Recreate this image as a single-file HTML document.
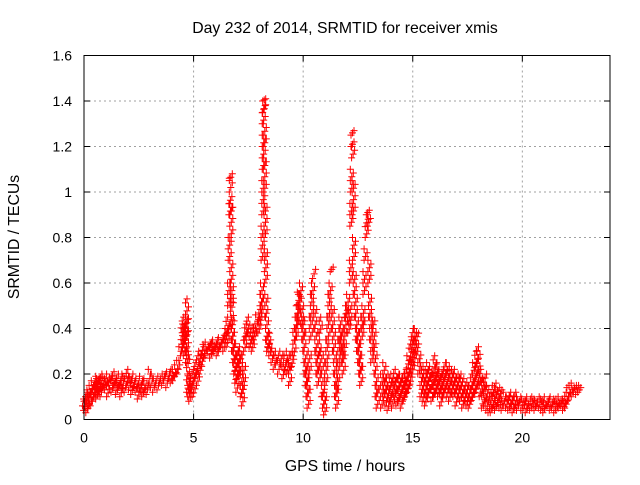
<!DOCTYPE html>
<html><head><meta charset="utf-8"><style>
body{margin:0;background:#fff;}
svg text{font-family:"Liberation Sans",sans-serif;font-size:14px;fill:#000;}
svg text.ttl{font-size:15.8px;}
</style></head><body>
<svg id="chart" width="640" height="480" xmlns="http://www.w3.org/2000/svg">
<rect width="640" height="480" fill="#fff"/>
<g id="grid"></g>
<g id="pts"></g>
<rect x="84" y="55.5" width="526" height="364" fill="none" stroke="#000"/>
<g id="ticks"></g>
<text class="ttl" x="345" y="33" text-anchor="middle">Day 232 of 2014, SRMTID for receiver xmis</text>
<text class="ttl" x="345" y="471" text-anchor="middle">GPS time / hours</text>
<text class="ttl" x="0" y="0" text-anchor="middle" transform="translate(19,237) rotate(-90)">SRMTID / TECUs</text>
</svg>
<script>
const xTicks=[0,5,10,15,20];
const yTicks=[0,0.2,0.4,0.6,0.8,1,1.2,1.4,1.6];
const yTickLabels=["0","0.2","0.4","0.6","0.8","1","1.2","1.4","1.6"];
const tecT=[0,0.05,0.1,0.15,0.2,0.25,0.3,0.35,0.4,0.45,0.5,0.55,0.6,0.65,0.7,0.75,0.8,0.9,1,1.1,1.2,1.3,1.4,1.5,1.6,1.7,1.8,1.9,2,2.1,2.2,2.3,2.4,2.5,2.6,2.7,2.8,2.9,3,3.1,3.2,3.3,3.4,3.5,3.6,3.7,3.8,3.9,4,4.1,4.2,4.3,4.4,4.5,4.55,4.6,4.65,4.7,4.75,4.8,4.85,4.9,5,5.1,5.2,5.3,5.4,5.5,5.6,5.7,5.8,5.9,6,6.1,6.2,6.3,6.4,6.5,6.55,6.6,6.62,6.65,6.68,6.7,6.7,6.72,6.72,6.75,6.75,6.78,6.8,6.85,6.9,6.95,7,7.05,7.1,7.15,7.2,7.25,7.3,7.35,7.4,7.5,7.6,7.7,7.8,7.9,8,8.05,8.1,8.12,8.15,8.18,8.2,8.2,8.22,8.22,8.25,8.25,8.28,8.3,8.32,8.35,8.4,8.45,8.5,8.6,8.7,8.8,8.9,9,9.1,9.2,9.3,9.4,9.5,9.6,9.7,9.75,9.8,9.85,9.9,9.95,10,10.05,10.1,10.15,10.2,10.25,10.3,10.35,10.4,10.45,10.5,10.55,10.6,10.65,10.7,10.75,10.8,10.85,10.9,10.95,11,11.05,11.1,11.15,11.2,11.25,11.3,11.35,11.4,11.45,11.5,11.55,11.6,11.65,11.7,11.75,11.8,11.85,11.9,11.95,12,12.05,12.1,12.15,12.18,12.2,12.22,12.25,12.25,12.28,12.3,12.32,12.35,12.4,12.45,12.5,12.55,12.6,12.65,12.7,12.75,12.8,12.85,12.9,12.95,13,13.02,13.05,13.1,13.15,13.2,13.25,13.3,13.35,13.4,13.45,13.5];
const tecLow=[0.06,0.04,0.08,0.03,0.07,0.05,0.1,0.06,0.12,0.08,0.1,0.13,0.09,0.14,0.11,0.12,0.1,0.14,0.13,0.1,0.15,0.12,0.14,0.11,0.13,0.1,0.14,0.12,0.15,0.13,0.11,0.14,0.12,0.09,0.13,0.1,0.12,0.11,0.16,0.14,0.12,0.15,0.13,0.16,0.15,0.17,0.14,0.18,0.16,0.17,0.19,0.2,0.26,0.3,0.33,0.28,0.35,0.25,0.12,0.1,0.08,0.12,0.1,0.18,0.15,0.2,0.24,0.27,0.28,0.3,0.27,0.29,0.31,0.28,0.3,0.32,0.3,0.35,0.32,0.38,0.5,0.7,0.9,1.05,1.0,0.8,0.6,0.5,0.42,0.35,0.3,0.25,0.2,0.16,0.12,0.18,0.25,0.2,0.1,0.06,0.15,0.3,0.35,0.38,0.32,0.3,0.35,0.4,0.38,0.42,0.45,0.5,0.7,0.9,1.1,1.3,1.4,1.35,1.2,1.0,0.8,0.6,0.45,0.35,0.3,0.32,0.28,0.25,0.22,0.24,0.2,0.25,0.18,0.22,0.2,0.15,0.23,0.28,0.35,0.4,0.45,0.5,0.55,0.42,0.35,0.3,0.2,0.15,0.1,0.05,0.2,0.35,0.45,0.55,0.62,0.4,0.3,0.2,0.15,0.28,0.38,0.2,0.1,0.05,0.02,0.15,0.25,0.35,0.45,0.55,0.65,0.4,0.3,0.2,0.1,0.05,0.15,0.25,0.35,0.3,0.25,0.2,0.3,0.4,0.45,0.5,0.38,0.42,0.6,0.85,1.0,1.2,1.25,1.15,0.9,0.7,0.55,0.45,0.35,0.3,0.25,0.2,0.15,0.35,0.4,0.55,0.7,0.8,0.9,0.85,0.6,0.45,0.35,0.25,0.4,0.3,0.2,0.1,0.05];
const tecHigh=[0.1,0.09,0.12,0.1,0.13,0.11,0.15,0.12,0.17,0.15,0.18,0.16,0.19,0.17,0.18,0.2,0.16,0.19,0.18,0.2,0.19,0.21,0.18,0.2,0.17,0.19,0.2,0.18,0.22,0.19,0.18,0.2,0.17,0.16,0.19,0.17,0.18,0.15,0.22,0.2,0.18,0.19,0.17,0.2,0.19,0.21,0.2,0.22,0.21,0.22,0.24,0.26,0.32,0.42,0.45,0.4,0.44,0.53,0.3,0.2,0.15,0.18,0.22,0.25,0.28,0.3,0.32,0.33,0.34,0.33,0.35,0.34,0.33,0.35,0.36,0.35,0.37,0.4,0.45,0.42,0.6,0.8,0.98,1.08,1.06,0.95,0.7,0.6,0.55,0.45,0.4,0.35,0.3,0.28,0.25,0.3,0.32,0.3,0.2,0.15,0.25,0.38,0.42,0.45,0.4,0.38,0.42,0.46,0.45,0.5,0.55,0.6,0.85,1.05,1.25,1.38,1.41,1.4,1.3,1.15,0.95,0.75,0.55,0.45,0.38,0.35,0.33,0.3,0.28,0.3,0.26,0.3,0.25,0.28,0.3,0.25,0.3,0.4,0.45,0.5,0.56,0.55,0.6,0.5,0.45,0.4,0.3,0.25,0.2,0.15,0.3,0.45,0.55,0.6,0.66,0.5,0.4,0.3,0.25,0.35,0.45,0.3,0.2,0.12,0.1,0.25,0.35,0.45,0.55,0.6,0.67,0.5,0.4,0.3,0.2,0.15,0.25,0.35,0.45,0.4,0.35,0.3,0.4,0.48,0.5,0.55,0.45,0.5,0.7,0.95,1.1,1.22,1.27,1.2,1.05,0.8,0.65,0.55,0.45,0.4,0.35,0.3,0.25,0.45,0.5,0.65,0.75,0.88,0.92,0.9,0.7,0.55,0.45,0.35,0.45,0.4,0.3,0.2,0.15];
const tailT=[13.6,13.7,13.8,13.9,14,14.1,14.2,14.3,14.4,14.5,14.6,14.7,14.8,14.9,15,15.1,15.2,15.3,15.4,15.5,15.6,15.7,15.8,15.9,16,16.1,16.2,16.3,16.4,16.5,16.6,16.7,16.8,16.9,17,17.1,17.2,17.3,17.4,17.5,17.6,17.7,17.8,17.9,18,18.1,18.2,18.3,18.4,18.5,18.6,18.7,18.8,18.9,19,19.1,19.2,19.3,19.4,19.5,19.6,19.7,19.8,19.9,20,20.1,20.2,20.3,20.4,20.5,20.6,20.7,20.8,20.9,21,21.1,21.2,21.3,21.4,21.5,21.6,21.7,21.8,21.9,22,22.1,22.2,22.3,22.4,22.5,22.6];
const tailLow=[0.05,0.1,0.06,0.04,0.08,0.05,0.1,0.06,0.08,0.05, 0.08,0.1,0.12,0.15,0.2,0.25,0.3,0.2,0.1,0.08, 0.06,0.1,0.12,0.08,0.1,0.12,0.1,0.06,0.1,0.12, 0.1,0.08,0.12,0.1,0.06,0.1,0.08,0.05,0.08,0.06, 0.05,0.08,0.1,0.12,0.15,0.1,0.05,0.06,0.04,0.03, 0.03,0.05,0.04,0.06,0.05,0.04,0.06,0.05,0.04,0.05, 0.03,0.05,0.04,0.06,0.04,0.05,0.03,0.05,0.04,0.05, 0.04,0.06,0.05,0.04,0.03,0.05,0.06,0.04,0.05,0.03, 0.04,0.05,0.06,0.04,0.05,0.08,0.1,0.1,0.12,0.11,0.12];
const tailHigh=[0.2,0.25,0.2,0.15,0.2,0.18,0.22,0.2,0.2,0.18, 0.2,0.22,0.28,0.35,0.4,0.4,0.38,0.3,0.25,0.22, 0.2,0.25,0.22,0.2,0.28,0.25,0.22,0.2,0.22,0.25, 0.25,0.22,0.2,0.22,0.2,0.18,0.2,0.15,0.18,0.15, 0.15,0.2,0.25,0.3,0.32,0.22,0.18,0.2,0.15,0.12, 0.12,0.15,0.16,0.14,0.13,0.1,0.12,0.1,0.12,0.1, 0.1,0.12,0.1,0.09,0.1,0.08,0.1,0.09,0.08,0.1, 0.09,0.1,0.08,0.09,0.1,0.08,0.1,0.09,0.08,0.09, 0.09,0.1,0.08,0.09,0.12,0.14,0.15,0.16,0.15,0.15,0.14];
const X0=84,X1=610,XMAX=24,Y0=419.5,Y1=55.5,YMAX=1.6;
const sx=t=>X0+(t/XMAX)*(X1-X0);
const sy=v=>Y0-(v/YMAX)*(Y0-Y1);
const NS="http://www.w3.org/2000/svg";
const grid=document.getElementById('grid'),ticks=document.getElementById('ticks'),pts=document.getElementById('pts');
function mk(tag,attrs,parent){const e=document.createElementNS(NS,tag);for(const k in attrs)e.setAttribute(k,attrs[k]);parent.appendChild(e);return e;}
xTicks.forEach((t,i)=>{
  const x=sx(t);
  if(t>0){const g=mk('line',{x1:x,x2:x,y1:Y1,y2:Y0,stroke:'#a0a0a0','stroke-dasharray':'2,3'},grid);
  
  }
  mk('line',{x1:x,x2:x,y1:Y0,y2:Y0-6,stroke:'#000'},ticks);
  mk('line',{x1:x,x2:x,y1:Y1,y2:Y1+6,stroke:'#000'},ticks);
  const tx=mk('text',{x:x,y:Y0+23,'text-anchor':'middle'},ticks);tx.textContent=String(t);
  
  
});
yTicks.forEach((v,i)=>{
  const y=sy(v);
  if(v>0&&v<YMAX){const g=mk('line',{x1:X0,x2:X1,y1:y,y2:y,stroke:'#a0a0a0','stroke-dasharray':'2,3'},grid);
  
  }
  mk('line',{x1:X0,x2:X0+6,y1:y,y2:y,stroke:'#000'},ticks);
  mk('line',{x1:X1,x2:X1-6,y1:y,y2:y,stroke:'#000'},ticks);
  const tx=mk('text',{x:X0-12,y:y+5,'text-anchor':'end'},ticks);tx.textContent=yTickLabels[i];
  
  
});
let d='';
function plus(x,y){d+=`M${(x-3.5).toFixed(1)},${y.toFixed(1)}h7M${x.toFixed(1)},${(y-3.5).toFixed(1)}v7`;}
function column(t,lo,hi){
  const x=sx(t);
  const n=Math.max(2,Math.round((sy(lo)-sy(hi))/4));
  for(let k=0;k<=n;k++){const v=lo+(hi-lo)*k/n;plus(x+((k%3)-1)*1.5,sy(v));}
}
const nMain=Math.min(tecT.length,tecLow.length,tecHigh.length);
for(let i=0;i<nMain;i++) column(tecT[i],tecLow[i],tecHigh[i]);
const nTail=Math.min(tailT.length,tailLow.length,tailHigh.length);
for(let i=0;i<nTail;i++) column(tailT[i],tailLow[i],tailHigh[i]);
const p=mk('path',{d:d,stroke:'#ff0000','stroke-width':'1',fill:'none'},pts);


</script>
</body></html>
